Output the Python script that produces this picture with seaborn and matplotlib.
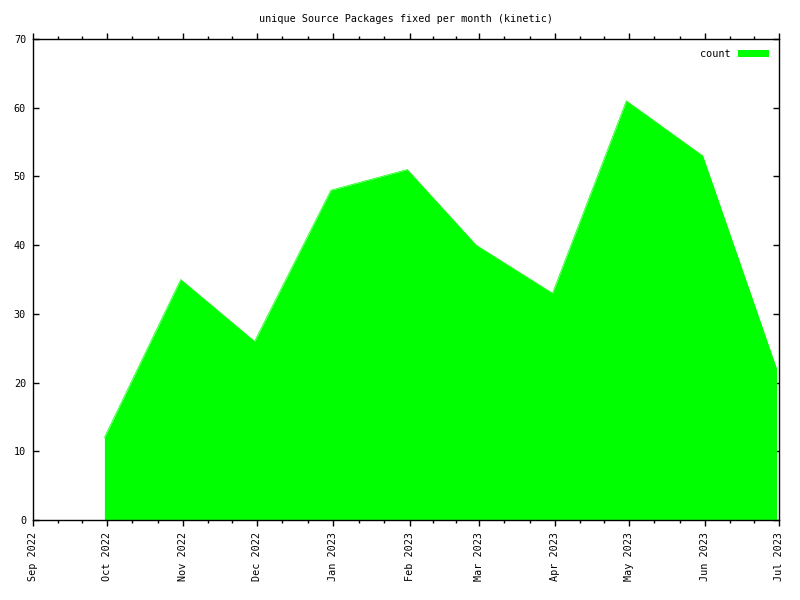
import matplotlib
matplotlib.use("Agg")
import matplotlib.pyplot as plt
import matplotlib.dates as mdates
import seaborn as sns
import pandas as pd
import numpy as np

# data: month-end dates and counts
dates = ["2022-09-30", "2022-10-31", "2022-11-30", "2022-12-31", "2023-01-31",
         "2023-02-28", "2023-03-31", "2023-04-30", "2023-05-31", "2023-06-30"]
counts = [12, 35, 26, 48, 51, 40, 33, 61, 53, 22]
tick_months = ["2022-09-01", "2022-10-01", "2022-11-01", "2022-12-01", "2023-01-01",
               "2023-02-01", "2023-03-01", "2023-04-01", "2023-05-01", "2023-06-01",
               "2023-07-01"]
title = "unique Source Packages fixed per month (kinetic)"

sns.set_style("ticks")
plt.rcParams['font.family'] = ['DejaVu Sans Mono']
plt.rcParams['text.color'] = 'black'
plt.rcParams['xtick.color'] = 'black'
plt.rcParams['ytick.color'] = 'black'
FS = 7.3

df = pd.DataFrame({"date": pd.to_datetime(dates), "count": counts})

fig = plt.figure(figsize=(8, 6), dpi=100)
ax = fig.add_axes([33/800, 80/600, (779-33)/800, (520-39)/600])

green = "#00ff00"
sns.lineplot(data=df, x="date", y="count", ax=ax, color=green, linewidth=0.5, legend=False)
ax.fill_between(df["date"], 0, df["count"], color=green, linewidth=0, label="count")

ticks = pd.to_datetime(tick_months)
ax.set_xlim(ticks[0], ticks[-1])
ax.set_ylim(0, 70)
ax.set_xticks(ticks)
minor = []
for a, b in zip(ticks[:-1], ticks[1:]):
    d = (b - a)
    minor += [a + d / 3, a + 2 * d / 3]
ax.set_xticks(minor, minor=True)
ax.xaxis.set_major_formatter(mdates.DateFormatter("%b %Y"))
ax.set_yticks(np.arange(0, 71, 10))

for lbl in ax.get_xticklabels():
    lbl.set_rotation(90)
ax.tick_params(axis="x", which="major", direction="out", length=4.3, width=1,
               top=True, bottom=True, labelsize=FS, pad=4.5, colors="black")
ax.tick_params(axis="x", which="minor", direction="out", length=2.2, width=1,
               top=True, bottom=True, colors="black")
ax.tick_params(axis="y", which="major", direction="in", length=4.3, width=1,
               left=True, right=True, labelsize=FS, pad=5, colors="black")
for s in ax.spines.values():
    s.set_visible(True)
    s.set_linewidth(1)
    s.set_color("black")

ax.set_xlabel("")
ax.set_ylabel("")
ax.set_title(title, fontsize=FS, pad=12, color="black")

leg = ax.legend(loc="upper right", frameon=False, fontsize=FS, markerfirst=False,
                handlelength=3.0, handleheight=0.7, handletextpad=0.8,
                borderaxespad=0.4, borderpad=0.6)
for t in leg.get_texts():
    t.set_color("black")

fig.savefig("out.png", dpi=100)
